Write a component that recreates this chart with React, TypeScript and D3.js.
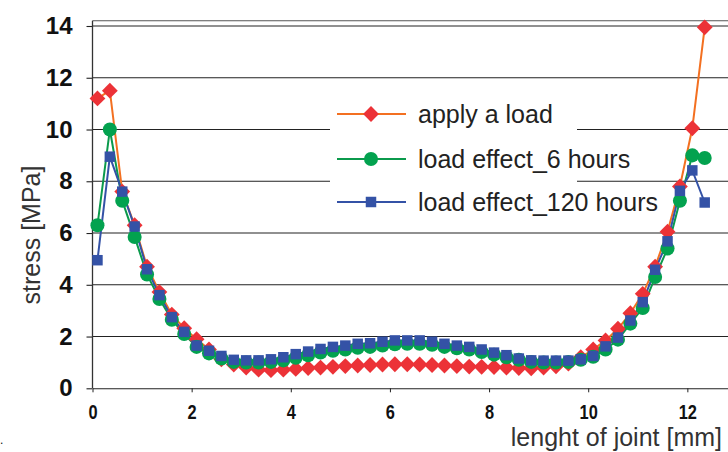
import React from 'react';
import * as d3 from 'd3';

// positions along the joint [mm]
const jointPos = [
    0.1, 0.35, 0.6, 0.85, 1.1, 1.35, 1.6, 1.85, 2.1, 2.35,
    2.6, 2.85, 3.1, 3.35, 3.6, 3.85, 4.1, 4.35, 4.6, 4.85,
    5.1, 5.35, 5.6, 5.85, 6.1, 6.35, 6.6, 6.85, 7.1, 7.35,
    7.6, 7.85, 8.1, 8.35, 8.6, 8.85, 9.1, 9.35, 9.6, 9.85,
    10.1, 10.35, 10.6, 10.85, 11.1, 11.35, 11.6, 11.85, 12.1, 12.35
];

const applyLoad = [
    11.2, 11.5, 7.6, 6.3, 4.7, 3.72, 2.85, 2.32, 1.9, 1.5,
    1.12, 0.92, 0.8, 0.72, 0.7, 0.72, 0.75, 0.78, 0.8, 0.83,
    0.86, 0.88, 0.9, 0.92, 0.93, 0.93, 0.92, 0.9, 0.88, 0.86,
    0.84, 0.83, 0.82, 0.8, 0.78, 0.77, 0.8, 0.85, 0.95, 1.2,
    1.5, 1.85, 2.3, 2.9, 3.65, 4.7, 6.05, 7.8, 10.05, 13.95
];

const effect6h = [
    6.3, 10.0, 7.25, 5.85, 4.4, 3.45, 2.65, 2.1, 1.6, 1.35,
    1.15, 1.02, 1.0, 1.0, 1.02, 1.08, 1.18, 1.28, 1.38, 1.45,
    1.5, 1.57, 1.6, 1.65, 1.7, 1.72, 1.72, 1.68, 1.6, 1.55,
    1.5, 1.4, 1.3, 1.2, 1.1, 1.02, 1.0, 1.0, 1.02, 1.1,
    1.22, 1.5, 1.88, 2.5, 3.1, 4.3, 5.4, 7.25, 9.0, 8.9
];

const effect120h = [
    4.95, 8.95, 7.6, 6.25, 4.6, 3.6, 2.75, 2.18, 1.65, 1.45,
    1.25, 1.1, 1.08, 1.08, 1.12, 1.2, 1.32, 1.42, 1.52, 1.6,
    1.65, 1.72, 1.74, 1.8, 1.85, 1.85, 1.85, 1.8, 1.72, 1.65,
    1.6, 1.5, 1.38, 1.28, 1.15, 1.08, 1.07, 1.07, 1.07, 1.12,
    1.25, 1.62, 1.96, 2.62, 3.33, 4.58, 5.68, 7.63, 8.42, 7.18
];

const yTicks = [0, 2, 4, 6, 8, 10, 12, 14];
const xTicks = [0, 2, 4, 6, 8, 10, 12];

const seriesNames = ['apply a load', 'load effect_6 hours', 'load effect_120 hours'];

const series = [
    { name: seriesNames[0], values: applyLoad, line: '#f37021', fill: '#ec3237', symbol: d3.symbolSquare, size: 125, rotate: 45, legendY: 114 },
    { name: seriesNames[1], values: effect6h, line: '#0b9a4c', fill: '#03a24f', symbol: d3.symbolCircle, size: 155, rotate: 0, legendY: 159 },
    { name: seriesNames[2], values: effect120h, line: '#3452a6', fill: '#3452a6', symbol: d3.symbolSquare, size: 110, rotate: 0, legendY: 202 }
];

const font = '"Liberation Sans", Arial, sans-serif';

export default function App() {

    const container = React.useRef(null);

    const width = 728, height = 452;
    const plotLeft = 92.5, plotRight = 728, plotTop = 20.7, plotBottom = 388.3;

    React.useEffect(() => {

        if (!container.current) return;

        const svg = d3.select(container.current);
        svg.selectAll('*').remove();

        const xScale = d3.scaleLinear().domain([0, 12.82]).range([plotLeft, plotRight]);
        const yScale = d3.scaleLinear().domain([0, 14]).range([plotBottom, 26]);

        // grid lines
        svg.append('g')
            .selectAll('line')
            .data(yTicks.filter(d => d > 0))
            .join('line')
            .attr('x1', plotLeft).attr('x2', plotRight)
            .attr('y1', d => yScale(d)).attr('y2', d => yScale(d))
            .attr('stroke', '#222').attr('stroke-width', 1.1);

        // top border
        svg.append('line')
            .attr('x1', plotLeft).attr('x2', plotRight)
            .attr('y1', plotTop).attr('y2', plotTop)
            .attr('stroke', '#555').attr('stroke-width', 1.1);

        // y axis
        const yAxis = d3.axisLeft(yScale).tickValues(yTicks).tickSize(6).tickPadding(14).tickSizeOuter(0);
        const yg = svg.append('g').attr('transform', `translate(${plotLeft},0)`).call(yAxis);
        yg.select('.domain').remove();
        yg.selectAll('.tick line').attr('stroke', '#222').attr('stroke-width', 1.1);
        yg.selectAll('.tick text')
            .attr('font-family', font).attr('font-size', 24).attr('font-weight', 'bold').attr('fill', '#111');
        svg.append('line')
            .attr('x1', plotLeft).attr('x2', plotLeft)
            .attr('y1', plotTop).attr('y2', plotBottom)
            .attr('stroke', '#333').attr('stroke-width', 1.3);

        // x axis
        const xAxis = d3.axisBottom(xScale).tickValues(xTicks).tickSize(4).tickPadding(12).tickSizeOuter(0);
        const xg = svg.append('g').attr('transform', `translate(0,${plotBottom})`).call(xAxis);
        xg.select('.domain').attr('stroke', '#222').attr('stroke-width', 1.1);
        xg.selectAll('.tick line').attr('stroke', '#222');
        xg.selectAll('.tick text')
            .attr('font-family', font).attr('font-size', 21).attr('font-weight', 'bold').attr('fill', '#111')
            .attr('transform', 'scale(0.78,1)');

        // axis titles
        svg.append('text')
            .attr('transform', 'translate(40,235) rotate(-90)')
            .attr('text-anchor', 'middle')
            .attr('font-family', font).attr('font-size', 25).attr('fill', '#333')
            .text('stress [MPa]');
        svg.append('text')
            .attr('x', 722).attr('y', 446)
            .attr('text-anchor', 'end')
            .attr('font-family', font).attr('font-size', 25).attr('fill', '#333')
            .text('lenght of joint [mm]');
        svg.append('text')
            .attr('x', 0).attr('y', 444)
            .attr('font-family', font).attr('font-size', 12).attr('fill', '#111')
            .text('.');

        // legend box
        svg.append('rect')
            .attr('x', 330).attr('y', 86).attr('width', 247).attr('height', 136)
            .attr('fill', '#fff');

        const line = d3.line().x((d, i) => xScale(jointPos[i])).y(d => yScale(d));

        series.forEach(s => {
            svg.append('path')
                .datum(s.values)
                .attr('d', line)
                .attr('fill', 'none')
                .attr('stroke', s.line)
                .attr('stroke-width', 2);
        });

        series.forEach(s => {
            const sym = d3.symbol().type(s.symbol).size(s.size);
            svg.append('g')
                .selectAll('path')
                .data(s.values)
                .join('path')
                .attr('d', sym)
                .attr('transform', (d, i) => `translate(${xScale(jointPos[i])},${yScale(d)}) rotate(${s.rotate})`)
                .attr('fill', s.fill);
        });

        // legend entries
        series.forEach(s => {
            const g = svg.append('g').attr('transform', `translate(0,${s.legendY})`);
            g.append('line')
                .attr('x1', 337).attr('x2', 406)
                .attr('stroke', s.line).attr('stroke-width', 2);
            g.append('path')
                .attr('d', d3.symbol().type(s.symbol).size(s.size)())
                .attr('transform', `translate(371,0) rotate(${s.rotate})`)
                .attr('fill', s.fill);
            g.append('text')
                .attr('x', 418).attr('y', 0).attr('dy', '0.35em')
                .attr('font-family', font).attr('font-size', 25).attr('fill', '#222')
                .text(s.name);
        });

    }, []);

    return <svg ref={container} width={width} height={height}
        style={{ position: 'absolute', left: 0, top: 0, background: '#fff' }} />
}
